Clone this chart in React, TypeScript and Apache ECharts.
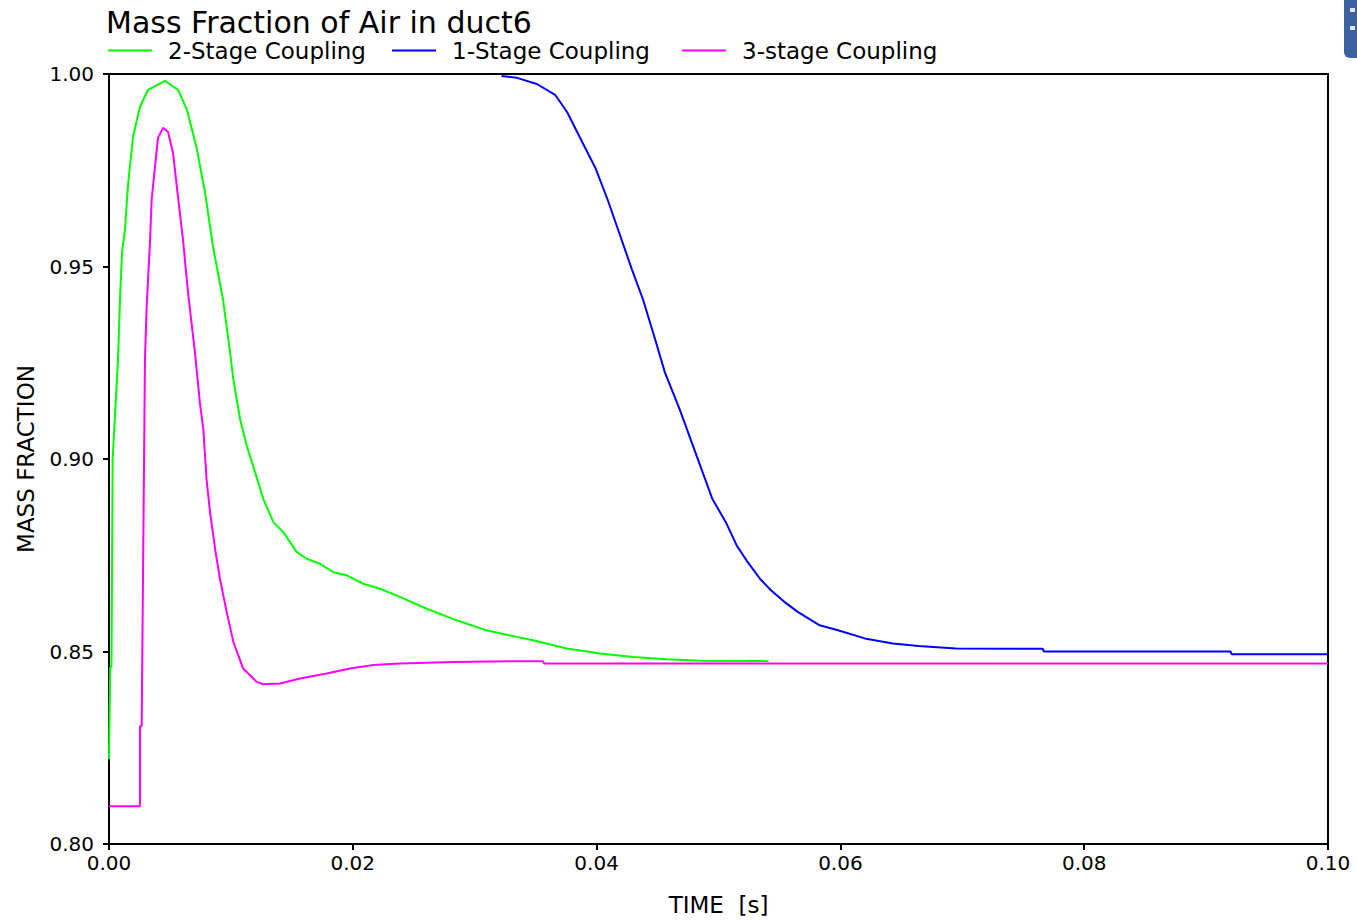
import React, { useEffect, useRef } from "react";
import * as echarts from "echarts";

const titleText = "Mass Fraction of Air in duct6";
const seriesNames = ["2-Stage Coupling", "1-Stage Coupling", "3-stage Coupling"];
const seriesColors = ["#00ff00", "#0000ff", "#ff00ff"];

const xTicks = [0, 0.02, 0.04, 0.06, 0.08, 0.1];
const yTicks = [0.8, 0.85, 0.9, 0.95, 1.0];

// 2-Stage Coupling
const stage2Time = [
  0, 0.0001, 0.0002, 0.0003, 0.00074, 0.0009, 0.00107, 0.00131, 0.00156, 0.00197, 0.00254, 0.0032,
  0.00459, 0.00566, 0.0064, 0.00722, 0.00788, 0.00853, 0.00935, 0.00993, 0.0102, 0.01075, 0.0113,
  0.01198, 0.01266, 0.01348, 0.0143, 0.0154, 0.01622, 0.01731, 0.0184, 0.0195, 0.02086, 0.02223,
  0.02387, 0.02606, 0.02852, 0.03098, 0.03345, 0.0348, 0.03755, 0.0403, 0.043, 0.0457, 0.0485, 0.0541,
];
const stage2Value = [
  0.822, 0.846, 0.846, 0.9, 0.926, 0.9415, 0.9536, 0.9596, 0.9712, 0.9837, 0.9915, 0.9959,
  0.9982, 0.9959, 0.9907, 0.9803, 0.9692, 0.9552, 0.9415, 0.9277, 0.9207, 0.9104, 0.9034,
  0.8966, 0.8896, 0.8836, 0.881, 0.8758, 0.8741, 0.8728, 0.8706, 0.8698, 0.8676, 0.8663,
  0.8642, 0.8611, 0.8581, 0.8555, 0.8538, 0.8529, 0.8508, 0.8495, 0.8486, 0.848, 0.8476, 0.8475,
];

// 1-Stage Coupling
const stage1Time = [
  0.0322, 0.03347, 0.0351, 0.0366, 0.0376, 0.0386, 0.0399, 0.0409, 0.0419, 0.0429, 0.0438, 0.0448,
  0.0456, 0.0468, 0.0482, 0.0495, 0.0506, 0.0515, 0.0524, 0.0534, 0.0543, 0.0554, 0.0565, 0.0583,
  0.0598, 0.062, 0.0643, 0.0664, 0.0695, 0.0766, 0.0767, 0.092, 0.0921, 0.1,
];
const stage1Value = [
  0.9995, 0.999, 0.9974, 0.9946, 0.99, 0.9837, 0.9756, 0.9674, 0.9583, 0.9492, 0.9415, 0.9311,
  0.9225, 0.913, 0.9009, 0.8896, 0.8836, 0.8775, 0.8732, 0.8689, 0.8659, 0.8629, 0.8603, 0.8568,
  0.8555, 0.8534, 0.8521, 0.8514, 0.8508, 0.8507, 0.85, 0.85, 0.8493, 0.8493,
];

// 3-stage Coupling
const stage3Time = [
  0, 0.00254, 0.00254, 0.00268, 0.00295, 0.00309, 0.00336, 0.0035, 0.00377, 0.00402, 0.00443,
  0.00484, 0.00525, 0.00566, 0.00607, 0.00648, 0.00705, 0.00747, 0.00774, 0.008, 0.00829, 0.0087,
  0.0091, 0.00965, 0.0102, 0.011, 0.01212, 0.01266, 0.01403, 0.01567, 0.01786, 0.01977, 0.02168,
  0.02387, 0.02824, 0.0337, 0.0356, 0.0357, 0.1,
];
const stage3Value = [
  0.8098, 0.8098, 0.8306, 0.8306, 0.926, 0.9396, 0.9562, 0.9674, 0.9759, 0.9834, 0.986,
  0.985, 0.9795, 0.9681, 0.957, 0.9433, 0.9277, 0.9142, 0.9078, 0.8948, 0.8862, 0.8767,
  0.8689, 0.8603, 0.8525, 0.8456, 0.8421, 0.8415, 0.8417, 0.843, 0.8443, 0.8456, 0.8465,
  0.8469, 0.8473, 0.8475, 0.8475, 0.8469, 0.8469,
];

const zip = (t: number[], v: number[]) => t.map((x, i) => [x, v[i]]);

const FONT = "DejaVu Sans";

export default function App() {
  const ref = useRef<HTMLDivElement>(null);
  useEffect(() => {
    if (!ref.current) return;
    const chart = echarts.init(ref.current, undefined, { renderer: "svg" });
    const dataSets = [zip(stage2Time, stage2Value), zip(stage1Time, stage1Value), zip(stage3Time, stage3Value)];
    const legendLefts = [108, 392, 682];
    chart.setOption({
      animation: false,
      backgroundColor: "#ffffff",
      title: {
        text: titleText,
        left: 106,
        top: 7,
        padding: 0,
        textStyle: { fontFamily: FONT, fontSize: 30, lineHeight: 30, fontWeight: "normal", color: "#000" },
      },
      legend: seriesNames.map((name, i) => ({
        data: [name],
        left: legendLefts[i],
        top: 39,
        padding: 0,
        icon: "rect",
        itemWidth: 44,
        itemHeight: 2,
        textStyle: { fontFamily: FONT, fontSize: 23, lineHeight: 22, color: "#000", padding: [0, 0, 0, 11] },
      })),
      grid: {
        left: 109,
        top: 74,
        width: 1219,
        height: 772,
        show: true,
        borderColor: "#000",
        borderWidth: 2,
        backgroundColor: "transparent",
      },
      xAxis: {
        type: "value",
        min: xTicks[0],
        max: xTicks[xTicks.length - 1],
        interval: 0.02,
        name: "TIME  [s]",
        nameLocation: "middle",
        nameGap: 49,
        nameTextStyle: { fontFamily: FONT, fontSize: 23, color: "#000" },
        axisLine: { show: true, lineStyle: { color: "#000", width: 2 } },
        axisTick: { show: true, length: 6, lineStyle: { color: "#000", width: 2 } },
        axisLabel: {
          fontFamily: FONT,
          fontSize: 20,
          color: "#000",
          margin: 9,
          formatter: (v: number) => v.toFixed(2),
        },
        splitLine: { show: false },
      },
      yAxis: {
        type: "value",
        min: yTicks[0],
        max: yTicks[yTicks.length - 1],
        interval: 0.05,
        name: "MASS FRACTION",
        nameLocation: "middle",
        nameGap: 72,
        nameTextStyle: { fontFamily: FONT, fontSize: 23, color: "#000" },
        axisLine: { show: true, lineStyle: { color: "#000", width: 2 } },
        axisTick: { show: true, length: 6, lineStyle: { color: "#000", width: 2 } },
        axisLabel: {
          fontFamily: FONT,
          fontSize: 20,
          color: "#000",
          margin: 15,
          formatter: (v: number) => v.toFixed(2),
        },
        splitLine: { show: false },
      },
      graphic: [
        {
          type: "rect",
          shape: { x: 1344, y: -8, width: 24, height: 66, r: 6 },
          style: { fill: "#3b62a0" },
        },
        {
          type: "rect",
          shape: { x: 1350, y: 8, width: 5, height: 4 },
          style: { fill: "#dfe6f2" },
        },
        {
          type: "rect",
          shape: { x: 1350, y: 26, width: 5, height: 4 },
          style: { fill: "#dfe6f2" },
        },
      ],
      series: seriesNames.map((name, i) => ({
        name,
        type: "line",
        data: dataSets[i],
        showSymbol: false,
        symbol: "none",
        color: seriesColors[i],
        lineStyle: { color: seriesColors[i], width: 2 },
        z: i === 2 ? 4 : 3,
      })),
    });
    return () => chart.dispose();
  }, []);
  return (
    <div
      ref={ref}
      style={{ position: "absolute", left: 0, top: 0, width: 1357, height: 921, background: "#fff" }}
    />
  );
}
